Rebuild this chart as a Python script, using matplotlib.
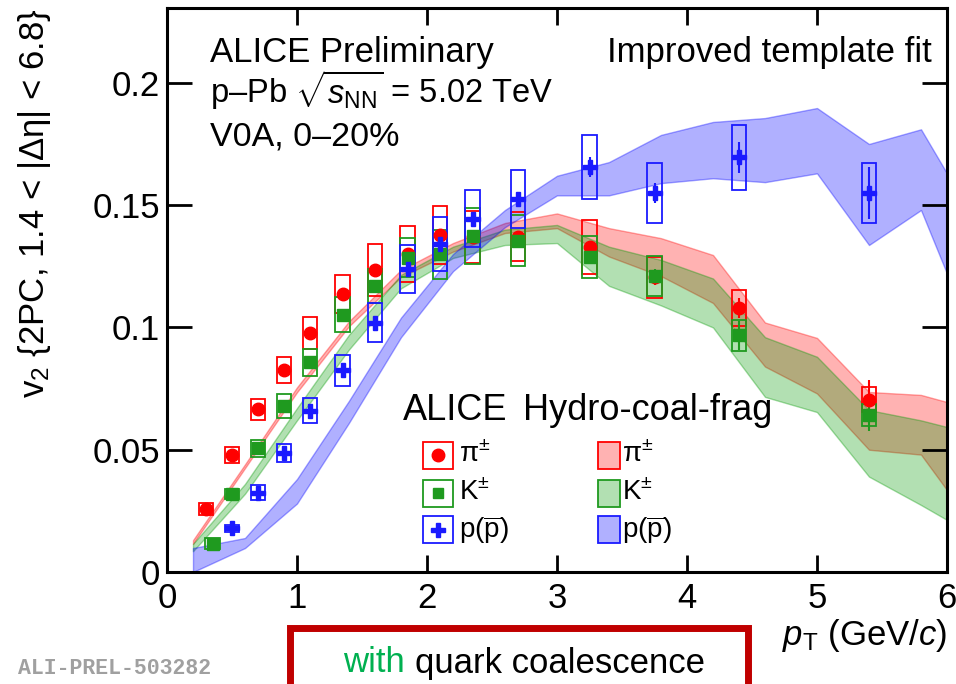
import matplotlib
matplotlib.use("Agg")
import matplotlib.pyplot as plt
from matplotlib.patches import Rectangle

plt.rcParams['font.family'] = ['Liberation Sans', 'DejaVu Sans']
plt.rcParams['mathtext.fontset'] = 'custom'
plt.rcParams['mathtext.rm'] = 'Liberation Sans'
plt.rcParams['mathtext.it'] = 'Liberation Sans:italic'
plt.rcParams['mathtext.bf'] = 'Liberation Sans:bold'
plt.rcParams['mathtext.sf'] = 'Liberation Sans'

# measured v2 of identified hadrons (value, stat. error, syst. half-height)
pt_pi = [0.3, 0.5, 0.7, 0.9, 1.1, 1.35, 1.6, 1.85, 2.1, 2.35, 2.7, 3.25, 3.75, 4.4, 5.4]
v2_pi = [0.0258, 0.0478, 0.0665, 0.0825, 0.0978, 0.1135, 0.1235, 0.130, 0.1378, 0.137, 0.137, 0.133, 0.1205, 0.108, 0.0705]
stat_pi = [0.0005, 0.0005, 0.0006, 0.0007, 0.0008, 0.001, 0.001, 0.0012, 0.0014, 0.0016, 0.002, 0.0025, 0.003, 0.004, 0.008]
sys_pi = [0.0025, 0.0033, 0.0043, 0.0053, 0.0065, 0.0078, 0.0105, 0.0115, 0.012, 0.0105, 0.010, 0.011, 0.0084, 0.0075, 0.005]

pt_k = [0.35, 0.5, 0.7, 0.9, 1.1, 1.35, 1.6, 1.85, 2.1, 2.35, 2.7, 3.25, 3.75, 4.4, 5.4]
v2_k = [0.0115, 0.0318, 0.0505, 0.068, 0.0858, 0.1052, 0.117, 0.1285, 0.130, 0.1375, 0.1355, 0.1288, 0.121, 0.0968, 0.064]
stat_k = [0.0005, 0.0005, 0.0006, 0.0007, 0.0008, 0.001, 0.001, 0.0012, 0.0014, 0.0016, 0.002, 0.0025, 0.003, 0.006, 0.0065]
sys_k = [0.0022, 0.002, 0.0035, 0.0049, 0.0055, 0.0072, 0.007, 0.008, 0.010, 0.0115, 0.0105, 0.0084, 0.008, 0.0064, 0.0045]

pt_p = [0.5, 0.7, 0.9, 1.1, 1.35, 1.6, 1.85, 2.1, 2.35, 2.7, 3.25, 3.75, 4.4, 5.4]
v2_p = [0.0178, 0.0325, 0.0485, 0.066, 0.0825, 0.102, 0.124, 0.134, 0.1445, 0.1525, 0.1655, 0.155, 0.1695, 0.155]
stat_p = [0.0006, 0.0007, 0.0008, 0.0009, 0.001, 0.0012, 0.0014, 0.0016, 0.0018, 0.0025, 0.004, 0.004, 0.0065, 0.0105]
sys_p = [0.0015, 0.003, 0.0037, 0.005, 0.0064, 0.0078, 0.0098, 0.011, 0.0117, 0.012, 0.013, 0.0122, 0.0133, 0.0123]

# Hydro-coal-frag model bands
pt_model = [0.2, 0.6, 1.0, 1.4, 1.8, 2.2, 2.6, 3.0, 3.4, 3.8, 4.2, 4.6, 5.0, 5.4, 5.8, 6.0]
pi_hi = [0.013, 0.044, 0.0755, 0.1025, 0.1235, 0.1345, 0.1427, 0.1466, 0.1406, 0.1365, 0.1296, 0.102, 0.0957, 0.0736, 0.0724, 0.0695]
pi_lo = [0.0115, 0.0425, 0.0735, 0.1005, 0.1206, 0.131, 0.1386, 0.1406, 0.129, 0.121, 0.110, 0.084, 0.073, 0.050, 0.048, 0.0335]
k_hi = [0.0115, 0.036, 0.067, 0.097, 0.1215, 0.133, 0.140, 0.1419, 0.133, 0.1276, 0.120, 0.096, 0.088, 0.0662, 0.062, 0.0593]
k_lo = [0.0085, 0.032, 0.062, 0.091, 0.116, 0.1284, 0.1337, 0.1345, 0.117, 0.109, 0.100, 0.0716, 0.0654, 0.039, 0.0274, 0.0213]
p_hi = [0.0098, 0.0139, 0.038, 0.070, 0.104, 0.130, 0.148, 0.162, 0.1676, 0.1787, 0.184, 0.1856, 0.1897, 0.175, 0.181, 0.163]
p_lo = [0.0, 0.0098, 0.028, 0.061, 0.096, 0.123, 0.141, 0.154, 0.154, 0.159, 0.161, 0.1594, 0.163, 0.1337, 0.148, 0.122]

c_red = '#ff0000'
c_green = '#1f9a1f'
c_blue = '#1a1aff'
fs = 25

fig = plt.figure(figsize=(9.56, 6.84), dpi=100)
ax = fig.add_axes([167/956, 1-572/684, 780/956, 564/684])

# model bands: pions first so the kaon band gives the brown overlap
ax.fill_between(pt_model, pi_lo, pi_hi, facecolor=(1, 0, 0, 0.3), edgecolor=(1, 0, 0, 0.35), lw=1, zorder=1)
ax.fill_between(pt_model, k_lo, k_hi, facecolor=(0, 0.6, 0, 0.3), edgecolor=(0, 0.6, 0, 0.35), lw=1, zorder=1)
ax.fill_between(pt_model, p_lo, p_hi, facecolor=(0, 0, 1, 0.31), edgecolor=(0, 0, 1, 0.35), lw=1, zorder=1)


def draw_points(pt, v2, stat, sys, color, marker, ms):
	hw = 0.055
	for x, y, s in zip(pt, v2, sys):
		ax.add_patch(Rectangle((x - hw, y - s), 2*hw, 2*s, fill=False, edgecolor=color, lw=1.3, zorder=3))
	ax.errorbar(pt, v2, yerr=stat, fmt='none', ecolor=color, elinewidth=1.5, capsize=0, zorder=4)
	ax.plot(pt, v2, ls='none', marker=marker, ms=ms, color=color, mec=color, zorder=5)


draw_points(pt_pi, v2_pi, stat_pi, sys_pi, c_red, 'o', 9)
draw_points(pt_k, v2_k, stat_k, sys_k, c_green, 's', 8.5)
draw_points(pt_p, v2_p, stat_p, sys_p, c_blue, 'P', 9.5)

ax.set_xlim(0, 6)
ax.set_ylim(0, 0.2306)
ax.set_xticks([0, 1, 2, 3, 4, 5, 6])
ax.set_xticklabels(['0', '1', '2', '3', '4', '5', '6'])
ax.set_yticks([0, 0.05, 0.1, 0.15, 0.2])
ax.set_yticklabels(['0', '0.05', '0.1', '0.15', '0.2'])
ax.tick_params(axis='x', direction='in', length=12, width=2, top=True, labelsize=fs, pad=7)
ax.tick_params(axis='y', direction='in', length=18, width=2, right=True, labelsize=fs, pad=5)
for sp in ax.spines.values():
	sp.set_linewidth(2.2)

ax.text(-0.17, 1.0, 'v$_{2}$ {2PC, 1.4 < |Δη| < 6.8}', transform=ax.transAxes,
	rotation=90, ha='center', va='top', fontsize=fs)
ax.text(1.0, -0.113, r'$p_{\mathrm{T}}$ (GeV/$c$)', transform=ax.transAxes,
	ha='right', va='center', fontsize=fs)

ax.text(0.055, 0.904, 'ALICE Preliminary', transform=ax.transAxes, fontsize=fs, va='baseline')
ax.text(0.981, 0.904, 'Improved template fit', transform=ax.transAxes, fontsize=fs, va='baseline', ha='right')
ax.text(0.055, 0.8316, r'p–Pb $\sqrt{s_{\mathrm{NN}}}$ = 5.02 TeV', transform=ax.transAxes, fontsize=23.5, va='baseline')
ax.text(0.055, 0.757, 'V0A, 0–20%', transform=ax.transAxes, fontsize=24.5, va='baseline')

# legend drawn by hand: data column and model column
ax.text(0.3026, 0.2695, 'ALICE', transform=ax.transAxes, fontsize=26, va='baseline')
ax.text(0.456, 0.2695, 'Hydro-coal-frag', transform=ax.transAxes, fontsize=26, va='baseline')
rows_y = [0.2074, 0.140, 0.0745]
labels = [r'$\mathrm{\pi}^{\pm}$', r'K$^{\pm}$', r'p($\overline{\mathrm{p}}$)']
colors = [c_red, c_green, c_blue]
markers = [('o', 9), ('s', 7.5), ('P', 9.5)]
fills = [(1, 0, 0, 0.3), (0, 0.6, 0, 0.3), (0, 0, 1, 0.31)]
bw, bh = 0.0385, 0.0479
for yy, lab, col, (mk, ms), fc in zip(rows_y, labels, colors, markers, fills):
	ax.add_patch(Rectangle((0.3474 - bw/2, yy - bh/2), bw, bh, transform=ax.transAxes,
		fill=False, edgecolor=col, lw=1.3, clip_on=False, zorder=6))
	ax.plot([0.3474], [yy], marker=mk, ms=ms, color=col, transform=ax.transAxes, clip_on=False, zorder=7)
	ax.text(0.3744, yy, lab, transform=ax.transAxes, fontsize=20, va='center')
	ax.add_patch(Rectangle((0.5667 - 0.0141, yy - bh/2), 0.0282, bh, transform=ax.transAxes,
		facecolor=fc, edgecolor=col, lw=1.3, clip_on=False, zorder=6))
	ax.text(0.5833, yy, lab, transform=ax.transAxes, fontsize=20, va='center')

fig.text(18/956, 1-668/684, 'ALI-PREL-503282', family='Liberation Mono', fontweight='bold',
	color='#a0a0a0', fontsize=15.5, va='center', ha='left')

# highlighted caption box at the bottom
fig.patches.append(Rectangle((290/956, -0.05), 458/956, 0.05 + 1-628/684, transform=fig.transFigure,
	fill=False, edgecolor='#c00000', lw=5, figure=fig))
fig.text(343/956, 1-663/684, 'with', color='#00b050', fontsize=25, va='center', ha='left')
fig.text(705/956, 1-663/684, 'quark coalescence', color='black', fontsize=25, va='center', ha='right')

fig.savefig('out.png', dpi=100)
